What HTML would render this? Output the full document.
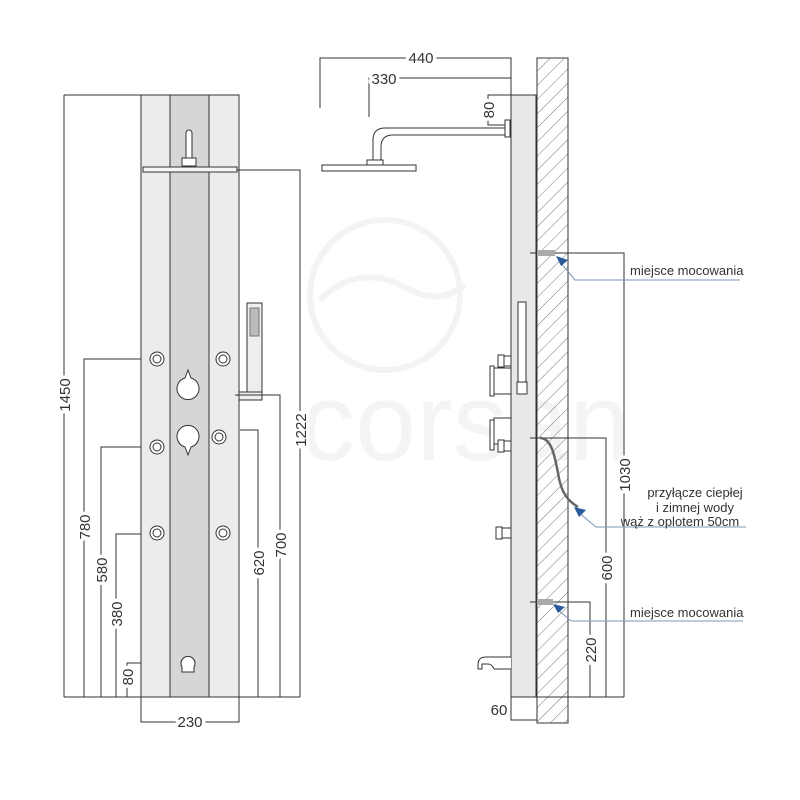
<!DOCTYPE html>
<html><head><meta charset="utf-8"><style>body{margin:0;background:#fff}svg{display:block}text{font-family:"Liberation Sans",sans-serif;font-size:15px;fill:#333;stroke:#fff;stroke-width:7px;paint-order:stroke;stroke-linejoin:round}text.n{stroke:none}.w text{stroke:none;fill:#f4f4f4}</style></head><body>
<svg width="800" height="800" viewBox="0 0 800 800" xmlns="http://www.w3.org/2000/svg">
<defs><pattern id="h" width="10" height="10" patternUnits="userSpaceOnUse" patternTransform="rotate(45)"><line x1="0" y1="0" x2="0" y2="10" stroke="#555" stroke-width="0.8"/></pattern></defs>
<g fill="none" stroke="#f3f3f3" stroke-width="6"><circle cx="385" cy="295" r="75"/><path d="M320 300 q40 -40 90 -10 q30 15 55 -5"/></g>
<g class="w"><text x="300" y="460" style="font-size:110px">corsan</text></g>
<g stroke="#333" stroke-width="1" fill="none">
<rect x="141" y="95" width="98" height="602" fill="#ececec"/>
<rect x="170" y="95" width="39" height="602" fill="#d6d6d6"/>
<rect x="143" y="167" width="94" height="5" fill="#f6f6f6"/>
<path d="M186 158v-25a3 3 0 0 1 6 0v25z M182 158h14v8h-14z" fill="#fff"/>
<rect x="247" y="303" width="15" height="95" fill="#eee"/><rect x="250" y="308" width="9" height="28" fill="#bbb" stroke="#777"/>
<rect x="239" y="392" width="23" height="8" fill="#eee"/>
<g fill="#fff"><path d="M188 370l3 8a11 11 0 1 1 -6 0z"/><path d="M188 455l-3 -8a11 11 0 1 1 6 0z"/><path d="M182 672v-5a7 7 0 1 1 12 0v5z"/></g>
<g fill="#fff"><circle cx="157" cy="359" r="7"/><circle cx="157" cy="359" r="4"/><circle cx="223" cy="359" r="7"/><circle cx="223" cy="359" r="4"/><circle cx="157" cy="447" r="7"/><circle cx="157" cy="447" r="4"/><circle cx="219" cy="437" r="7"/><circle cx="219" cy="437" r="4"/><circle cx="157" cy="533" r="7"/><circle cx="157" cy="533" r="4"/><circle cx="223" cy="533" r="7"/><circle cx="223" cy="533" r="4"/></g>
<path d="M64 697h236 M64 95h84 M64 95v602 M141 359h-57v338 M141 447h-40v250 M141 534h-25v163 M141 663h-14v34 M237 170h63v527 M235 395h45v302 M240 430h18v267 M141 697v25h98v-25"/>
<rect x="511" y="95" width="25" height="602" fill="#e8e8e8"/>
<rect x="537" y="58" width="31" height="665" fill="url(#h)"/>
<path d="M320 108v-50h191v50 M369 117v-39h142 M511 95h-23v30h18 M505 128h-120 q-12 0 -12 12v20 M505 135h-112 q-12 0 -12 12v13"/>
<rect x="505" y="120" width="5" height="17" fill="#fff"/>
<rect x="367" y="160" width="16" height="5" fill="#fff"/><rect x="322" y="165" width="94" height="6" fill="#fff"/>
<rect x="518" y="302" width="8" height="80" fill="#fff"/><rect x="517" y="382" width="10" height="12" fill="#fff"/>
<g fill="#fff"><rect x="498" y="355" width="6" height="12"/><rect x="504" y="356" width="7" height="10"/><rect x="490" y="366" width="4" height="30"/><rect x="494" y="368" width="17" height="26"/>
<rect x="490" y="420" width="4" height="30"/><rect x="494" y="418" width="17" height="26"/><rect x="498" y="440" width="6" height="12"/><rect x="504" y="441" width="7" height="10"/>
<rect x="496" y="527" width="6" height="12"/><rect x="502" y="528" width="9" height="10"/></g>
<path d="M511 657h-25q-8 0 -8 8v4h4v-5h6q4 0 6 5h17" fill="#fff"/>
<path d="M530 253h94v444 M530 438h76v259 M530 602h60v95 M511 697h113 M511 697v23h26"/>
<path d="M540 438c12 0 15 20 18 35c3 20 10 28 20 34" stroke-width="2.5" stroke="#666"/>
</g>
<rect x="537" y="250" width="18" height="6" fill="#aaa"/><rect x="537" y="599" width="16" height="6" fill="#aaa"/>
<g stroke="#7a95b3" fill="none" stroke-width="1"><path d="M560 262l15 18h165 M578 512l18 15h150 M557 609l14 12h172"/></g>
<g fill="#2a5a9a"><path d="M556 256l12 4l-7 6z M574 507l12 3l-7 7z M553 604l12 3l-7 6z"/></g>
<text x="421" y="63" text-anchor="middle">440</text><text x="384" y="84" text-anchor="middle">330</text>
<text x="499" y="715" text-anchor="middle">60</text><text x="190" y="727" text-anchor="middle">230</text>
<text class="n" x="630" y="275" style="font-size:13px">miejsce mocowania</text>
<text class="n" x="630" y="617" style="font-size:13px">miejsce mocowania</text>
<text class="n" x="695" y="497" text-anchor="middle" style="font-size:13px">przyłącze ciepłej</text>
<text class="n" x="695" y="512" text-anchor="middle" style="font-size:13px">i zimnej wody</text>
<text class="n" x="680" y="526" text-anchor="middle" style="font-size:13px">wąż z oplotem 50cm</text>
<g>
<text transform="translate(70,395) rotate(-90)" text-anchor="middle">1450</text>
<text transform="translate(90,527) rotate(-90)" text-anchor="middle">780</text>
<text transform="translate(107,570) rotate(-90)" text-anchor="middle">580</text>
<text transform="translate(122,614) rotate(-90)" text-anchor="middle">380</text>
<text transform="translate(133,677) rotate(-90)" text-anchor="middle">80</text>
<text transform="translate(264,563) rotate(-90)" text-anchor="middle">620</text>
<text transform="translate(286,545) rotate(-90)" text-anchor="middle">700</text>
<text transform="translate(306,430) rotate(-90)" text-anchor="middle">1222</text>
<text transform="translate(494,110) rotate(-90)" text-anchor="middle">80</text>
<text transform="translate(630,475) rotate(-90)" text-anchor="middle">1030</text>
<text transform="translate(612,568) rotate(-90)" text-anchor="middle">600</text>
<text transform="translate(596,650) rotate(-90)" text-anchor="middle">220</text>
</g>
</svg>
</body></html>
